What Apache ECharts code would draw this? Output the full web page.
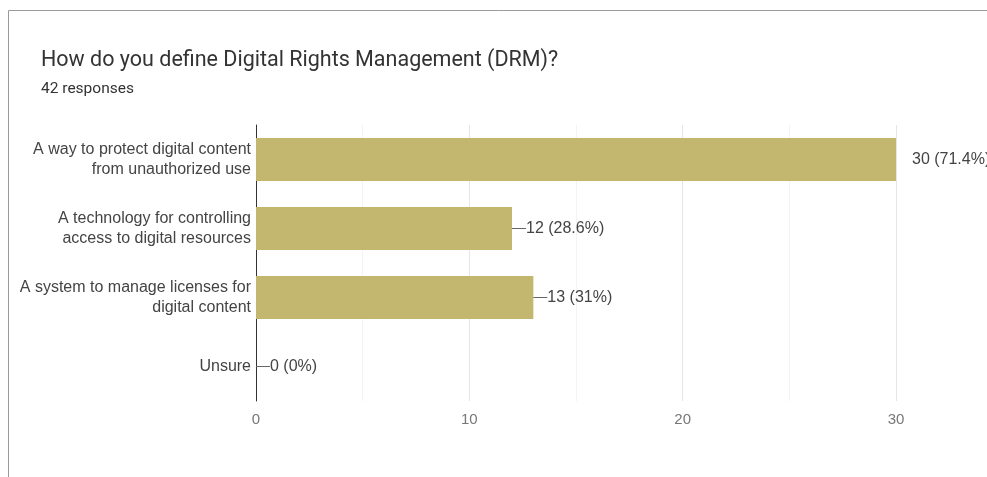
<!DOCTYPE html>
<html>
<head>
<meta charset="utf-8">
<script src="https://cdn.jsdelivr.net/npm/echarts@6/dist/echarts.min.js"></script>
<style>
  html, body { margin: 0; padding: 0; background: #fff; }
  #chart { width: 987px; height: 477px; }
</style>
</head>
<body>
<div id="chart"></div>
<script>
'use strict';

// 图表数据
const titleText = 'How do you define Digital Rights Management (DRM)?';
const subText = '42 responses';
const categories = [
    'A way to protect digital content\nfrom unauthorized use',
    'A technology for controlling\naccess to digital resources',
    'A system to manage licenses for\ndigital content',
    'Unsure'
];
const counts = [30, 12, 13, 0];
const percents = ['71.4%', '28.6%', '31%', '0%'];
const xTicks = [0, 10, 20, 30];

const chart = echarts.init(document.getElementById('chart'));

const arial = '"Liberation Sans", Arial, sans-serif';

// 数据项（第一项的标签不带引线）
const barData = counts.map((v, i) => {
    if (i === 0) {
        return { value: v, label: { distance: 16, formatter: p => `${p.value} (${percents[p.dataIndex]})` } };
    }
    return v;
});

const option = {
    backgroundColor: '#fff',
    animation: false,
    title: {
        text: titleText,
        subtext: subText,
        left: 36,
        top: 45,
        itemGap: 9,
        textStyle: { fontFamily: 'Roboto, sans-serif', fontSize: 21.5, fontWeight: 'normal', color: '#333' },
        subtextStyle: { fontFamily: 'Roboto, sans-serif', fontSize: 15.5, color: '#333' }
    },
    graphic: [{
        type: 'rect',
        shape: { x: 8.5, y: 10.5, width: 1000, height: 500 },
        style: { fill: 'none', stroke: '#9a9a9a', lineWidth: 1 },
        silent: true
    }],
    grid: { left: 256, right: 91, top: 125, bottom: 76 },
    xAxis: {
        type: 'value',
        min: xTicks[0],
        max: xTicks[xTicks.length - 1],
        interval: 10,
        axisLine: { show: false },
        axisTick: { show: false },
        axisLabel: { color: '#777', fontSize: 15, fontFamily: arial, margin: 11 },
        splitLine: { show: true, lineStyle: { color: '#e6e6e6' } },
        minorTick: { show: false, splitNumber: 2 },
        minorSplitLine: { show: true, lineStyle: { color: '#f3f3f3' } }
    },
    yAxis: {
        type: 'category',
        inverse: true,
        data: categories,
        axisLine: { show: true, lineStyle: { color: '#333', width: 1 } },
        axisTick: { show: false },
        axisLabel: { color: '#444', fontSize: 16, fontFamily: arial, lineHeight: 20, margin: 5, align: 'right' }
    },
    series: [{
        type: 'bar',
        data: barData,
        barWidth: '62%',
        itemStyle: { color: '#c3b66f' },
        label: {
            show: true,
            position: 'right',
            distance: 0,
            color: '#444',
            fontSize: 16,
            fontFamily: arial,
            formatter: p => `{line|}${p.value} (${percents[p.dataIndex]})`,
            rich: {
                line: { width: 14, height: 1, backgroundColor: '#666', verticalAlign: 'middle' }
            }
        }
    }]
};

chart.setOption(option);
</script>
</body>
</html>
